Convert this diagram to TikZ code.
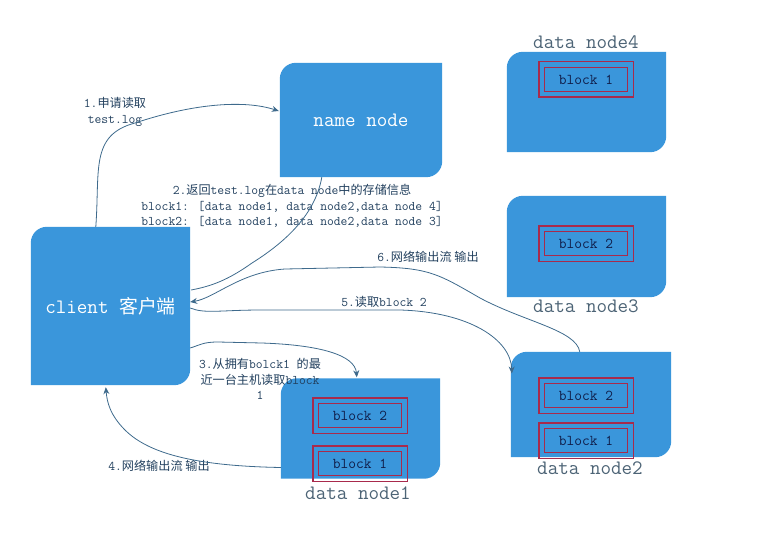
\documentclass[tikz,border=0pt]{standalone}
\usepackage{fontspec}
\newfontfamily\zhfont[Scale=0.92]{Noto Sans CJK SC}
\newcommand\zh[1]{{\zhfont #1}}
\usetikzlibrary{backgrounds,calc,arrows.meta}
\definecolor{boxblue}{HTML}{3A96DB}
\definecolor{blockred}{HTML}{A82A4C}
\definecolor{arrowc}{HTML}{3E6A8C}
\definecolor{notec}{HTML}{22405E}
\definecolor{labc}{HTML}{4D6476}
\definecolor{blocktxt}{HTML}{101E4A}
\newcommand\diagfill[1]{\fill[boxblue] ([yshift=-16pt]#1.north west) arc[start angle=180,end angle=90,radius=16pt] -- (#1.north east) -- ([yshift=16pt]#1.south east) arc[start angle=0,end angle=-90,radius=16pt] -- (#1.south west) -- cycle;}
\newcommand\outerframe[1]{\draw[draw=blockred, line width=1.2pt] ($(#1.north west)+(-5,-5)$) rectangle ($(#1.south east)+(5,5)$);}
\tikzset{
  server/.style={inner sep=0pt, text=white, font=\ttfamily\fontsize{20.5}{20.5}\selectfont},
  blockbox/.style={draw=blockred, line width=1.2pt,
    minimum width=83pt, minimum height=24pt, inner sep=0pt,
    font=\ttfamily\fontsize{15}{15}\selectfont, text=blocktxt},
  dnlabel/.style={text=labc, font=\ttfamily\fontsize{20.5}{20.5}\selectfont, inner sep=0pt},
  note/.style={text=notec, font=\ttfamily\fontsize{13.2}{15.5}\selectfont, inner sep=0pt, align=center},
  conn/.style={draw=arrowc, line width=0.8pt},
  arr/.style={conn, -{Stealth[length=7pt,width=6pt]}}
}
\begin{document}
\begin{tikzpicture}[x=1pt,y=-1pt]
\useasboundingbox (0,0) rectangle (775,532);
% boxes
\node[server, minimum width=162pt, minimum height=114pt] (name) at (361,120) {name node};
\node[server, minimum width=159pt, minimum height=158pt] (client) at (110.5,306) {client \zh{客户端}};
\node[server, minimum width=159pt, minimum height=100pt] (dn4) at (586.5,102) {};
\node[server, minimum width=159pt, minimum height=101pt] (dn3) at (586.5,246.5) {};
\node[server, minimum width=159pt, minimum height=100pt] (dn1) at (360.5,428.5) {};
\node[server, minimum width=160pt, minimum height=105pt] (dn2) at (591,404.5) {};
\begin{pgfonlayer}{background}
\diagfill{name}
\diagfill{client}
\diagfill{dn4}
\diagfill{dn3}
\diagfill{dn1}
\diagfill{dn2}
\end{pgfonlayer}
% blocks
\node[blockbox] (b41) at (586,79.5) {block 1};
\node[blockbox] (b32) at (586,243.5) {block 2};
\node[blockbox] (b12) at (360,415.5) {block 2};
\node[blockbox] (b11) at (360,463.5) {block 1};
\node[blockbox] (b22) at (586,395.5) {block 2};
\node[blockbox] (b21) at (586,440.5) {block 1};
\outerframe{b41}
\outerframe{b32}
\outerframe{b12}
\outerframe{b11}
\outerframe{b22}
\outerframe{b21}
% labels
\node[dnlabel] (l4) at (586,42) {data node4};
\node[dnlabel] (l3) at (586,306) {data node3};
\node[dnlabel] (l1) at (358,493) {data node1};
\node[dnlabel] (l2) at (590,468) {data node2};
% notes
\node[note] (n1) at (115,112) {1.\zh{申请读取}\\test.log};
\node[note] (n2) at (292,206) {2.\zh{返回}test.log\zh{在}data node\zh{中的存储信息}\\block1: [data node1, data node2,data node 4]\\block2: [data node1, data node2,data node 3]};
\node[note] (n3) at (260,379) {3.\zh{从拥有}bolck1 \zh{的最}\\\zh{近一台主机读取}block\\1};
\node[note] (n4) at (159,466) {4.\zh{网络输出流 输出}};
\node[note] (n5) at (384,302) {5.\zh{读取}block 2};
\node[note] (n6) at (428,257) {6.\zh{网络输出流 输出}};
% connectors
\draw[arr] ($(client.north west)+(65,0)$) .. controls (100,170) and (90,135) .. (135,123) .. controls (195,103) and (245,100) .. ($(name.west)+(-1,-9)$);
\draw[conn] ($(name.south west)+(42,0)$) .. controls (316,210) and (292,238) .. (252,263) .. controls (228,280) and (212,286) .. ($(client.east)+(1,-16)$);
\draw[arr] ($(client.east)+(0,2)$) .. controls (205,314) and (220,310) .. (262,310) -- (400,310) .. controls (470,312) and (511,340) .. ($(dn2.west)+(1,-31)$);
\draw[arr] ($(dn2.north west)+(69,0)$) .. controls (576,330) and (525,322) .. (480,298) .. controls (440,275) and (430,268) .. (380,267) -- (285,269) .. controls (240,272) and (215,298) .. ($(client.east)+(0,-4)$);
\draw[arr] ($(client.east)+(0,42)$) .. controls (200,345) and (203,342) .. (218,342) -- (262,343) .. controls (320,345) and (355,355) .. ($(dn1.north west)+(76,-1)$);
\draw[arr] ($(dn1.west)+(0,39)$) .. controls (200,466) and (150,455) .. (125,430) .. controls (110,415) and (107,402) .. ($(client.south west)+(75,2)$);
\end{tikzpicture}
\end{document}
